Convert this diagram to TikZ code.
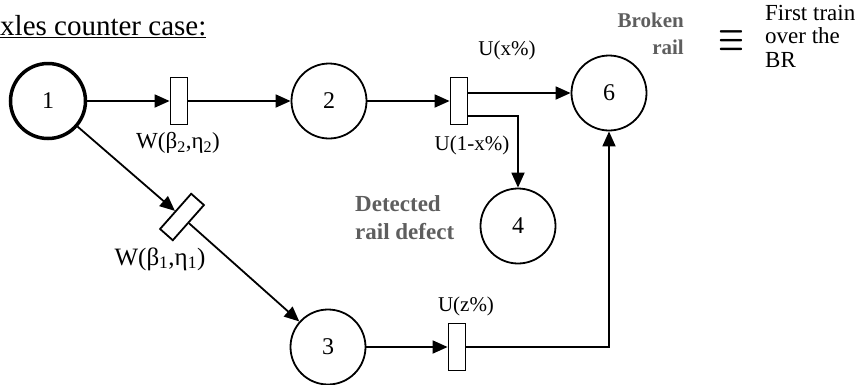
\documentclass[tikz,border=0pt]{standalone}
\usepackage{fontspec}
\setmainfont{Liberation Serif}
\usetikzlibrary{arrows.meta,positioning}
\definecolor{grey}{HTML}{5E5E5E}

\begin{document}
\begin{tikzpicture}[x=1pt,y=-1pt,
    every node/.style={font=\fontsize{21}{24}\selectfont},
    pnode/.style={draw,circle,line width=1.8pt,minimum size=75pt,inner sep=0pt,font=\fontsize{24}{24}\selectfont},
    tbar/.style={draw,rectangle,line width=1.8pt,minimum width=17pt,minimum height=47pt,inner sep=0pt},
    arr/.style={line width=1.8pt,-{Triangle[length=15pt,width=13pt]}},
    note/.style={text=grey,inner sep=0pt,font=\fontsize{21}{27}\selectfont\bfseries}]
    \useasboundingbox (0,0) rectangle (865,384);
    \node[anchor=base west,inner sep=0pt,font=\fontsize{29}{30}\selectfont] (title) at (0,35) {\underline{xles counter case:}};
    % places
    \node[pnode,line width=3.5pt] (p1) at (48,101) {1};
    \node[pnode] (p2) at (329,101) {2};
    \node[pnode] (p3) at (328,347) {3};
    \node[pnode] (p4) at (518,226) {4};
    \node[pnode] (p6) at (609,93) {6};
    % transitions
    \node[tbar] (t12) at (179,101) {};
    \node[tbar] (t26) at (459,101) {};
    \node[tbar] (t36) at (457,347) {};
    \node[tbar,rotate=-41.5] (t13) at (182,217) {};
    % labels
    \node[font=\fontsize{23}{24}\selectfont] (w2) at (178,143) {W(β\textsubscript{2},η\textsubscript{2})};
    \node[font=\fontsize{25}{26}\selectfont] (w1) at (160,259) {W(β\textsubscript{1},η\textsubscript{1})};
    \node (ux) at (507,50) {U(x\%)};
    \node (u1x) at (472,145) {U(1-x\%)};
    \node (uz) at (466,306) {U(z\%)};
    \node[note,anchor=north east,align=right] (broken) at (684,13) {Broken\\rail};
    \node[note,anchor=north west,align=left,font=\fontsize{23}{28}\selectfont\bfseries] (detected) at (355,195) {Detected\\rail defect};
    \node[inner sep=0pt] (eq) at (731,41) {\scalebox{1.4}[1.9]{\boldmath$\equiv$}};
    \node[anchor=north west,align=left,inner sep=0pt,font=\fontsize{23}{23.5}\selectfont] (first) at (765,5) {First train\\over the\\BR};
    % arcs
    \draw[arr] (p1) -- (t12);
    \draw[arr] (t12) -- (p2);
    \draw[arr] (p2) -- (t26);
    \draw[arr] (t26.east |- p6) -- (p6);
    \draw[arr] ([yshift=-15pt]t26.east) -| (p4);
    \draw[arr] (p1) -- (t13);
    \draw[arr] (t13) -- (p3);
    \draw[arr] (p3) -- (t36);
    \draw[arr] (t36) -| (p6);
\end{tikzpicture}
\end{document}
